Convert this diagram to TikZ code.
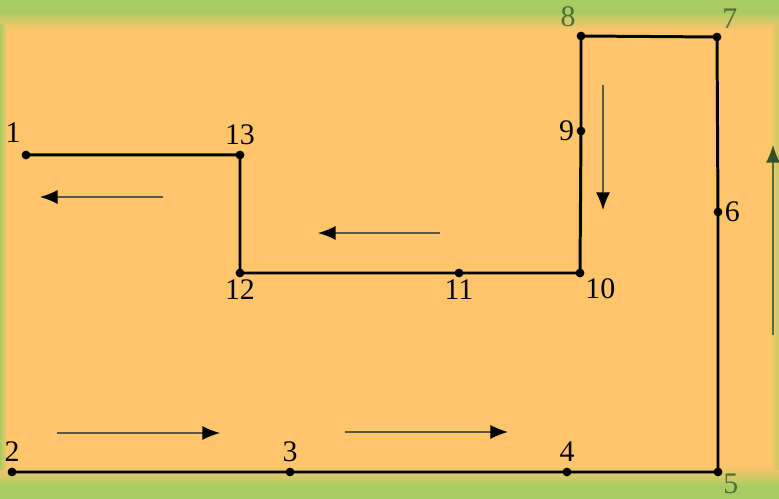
\documentclass[tikz,border=0pt]{standalone}
\usepackage{fontspec}
\setmainfont{Liberation Serif}
\usetikzlibrary{arrows.meta}

\definecolor{bgorange}{HTML}{FFC56B}
\definecolor{bggreen}{HTML}{A9CC62}
\definecolor{lblgreen}{HTML}{4E6E3A}
\definecolor{flowgray}{HTML}{5E5640}

\begin{document}
\begin{tikzpicture}[
    x=0.02cm, y=-0.02cm,
    pt/.style    = {circle, fill=black, inner sep=0pt, minimum size=5pt},
    num/.style   = {font=\fontsize{17}{20}\selectfont, inner sep=1pt},
    faded/.style = {num, text=lblgreen},
    pipe/.style  = {line width=1.7pt, line join=miter},
    flow/.style  = {-{Latex[length=10pt,width=8pt,black]}, line width=0.8pt, draw=flowgray},
]

    % ── Fond ──
    \fill[bgorange] (0,0) rectangle (779,499);
    \fill[bggreen] (0,0) rectangle (779,12);
    \shade[top color=bggreen, bottom color=bgorange] (0,12) rectangle (779,30);
    \shade[top color=bgorange, bottom color=bggreen] (0,466) rectangle (779,486);
    \fill[bggreen] (0,486) rectangle (779,499);
    \shade[left color=bggreen, right color=bgorange] (0,25) rectangle (7,470);
    \shade[left color=bgorange, right color=bggreen!70!bgorange] (770,25) rectangle (779,470);
    \useasboundingbox (0,0) rectangle (779,499);

    % ── Points ──
    \node[pt, label={[num,yshift=4pt]above left:1}] (n1) at (26,155) {};
    \node[pt, label={[num,yshift=2pt]above:13}] (n13) at (240,155) {};
    \node[pt, label={[num]below:12}] (n12) at (240,273) {};
    \node[pt, label={[num]below:11}] (n11) at (459,273) {};
    \node[pt, label={[num]below right:10}] (n10) at (580,273) {};
    \node[pt, label={[num]left:9}] (n9) at (581,131) {};
    \node[pt, label={[faded,yshift=2pt]above left:8}] (n8) at (581,36) {};
    \node[pt, label={[faded,yshift=2pt]above right:7}] (n7) at (717,37) {};
    \node[pt, label={[num]right:6}] (n6) at (718,212) {};
    \node[pt, label={[faded,yshift=2pt]below right:5}] (n5) at (718,472) {};
    \node[pt, label={[num,yshift=2pt]above:4}] (n4) at (567,472) {};
    \node[pt, label={[num,yshift=2pt]above:3}] (n3) at (290,472) {};
    \node[pt, label={[num,yshift=2pt]above:2}] (n2) at (12,472) {};

    % ── Conduite ──
    \draw[pipe] (n2.center) -- (n3.center) -- (n4.center) -- (n5.center)
        -- (n6.center) -- (n7.center) -- (n8.center) -- (n9.center)
        -- (n10.center) -- (n11.center) -- (n12.center) -- (n13.center) -- (n1.center);

    % ── Sens d'écoulement ──
    \coordinate (a1s) at (163,197); \coordinate (a1e) at (40,197);
    \coordinate (a2s) at (440,233); \coordinate (a2e) at (318,233);
    \coordinate (a3s) at (603,85);  \coordinate (a3e) at (603,210);
    \coordinate (a4s) at (773,335); \coordinate (a4e) at (773,145);
    \coordinate (a5s) at (57,433);  \coordinate (a5e) at (220,433);
    \coordinate (a6s) at (345,432); \coordinate (a6e) at (508,432);

    \draw[flow] (a1s) -- (a1e);
    \draw[flow] (a2s) -- (a2e);
    \draw[flow] (a3s) -- (a3e);
    \draw[flow, draw=lblgreen, -{Latex[length=10pt,width=8pt,lblgreen!70!black]}] (a4s) -- (a4e);
    \draw[flow] (a5s) -- (a5e);
    \draw[flow] (a6s) -- (a6e);

\end{tikzpicture}
\end{document}
